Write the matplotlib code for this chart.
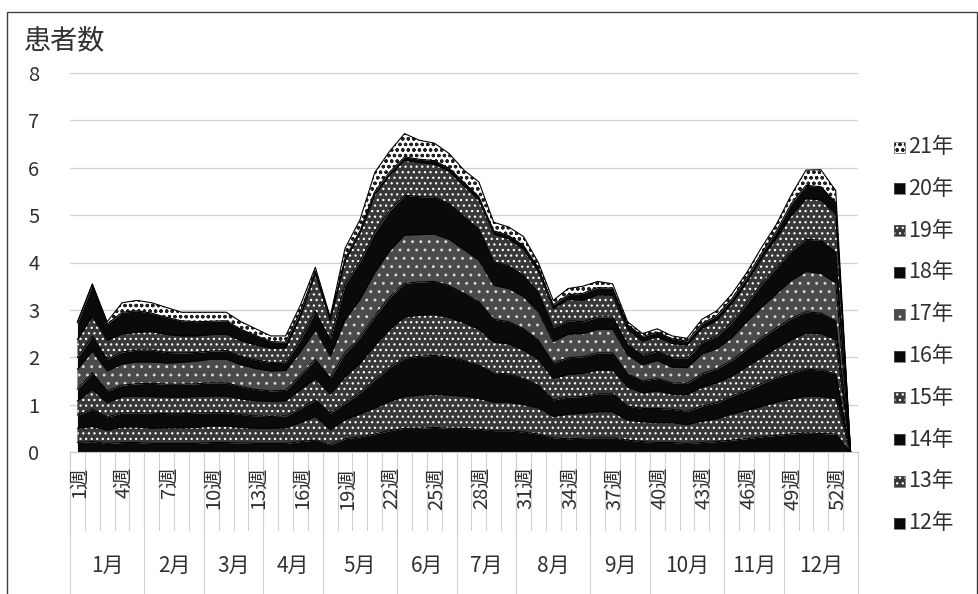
import numpy as np
import matplotlib
matplotlib.use('Agg')
import matplotlib.pyplot as plt
import matplotlib.transforms as mtransforms
from matplotlib.patches import Rectangle

plt.rcParams['font.family'] = ['Noto Sans CJK JP', 'DejaVu Sans']
plt.rcParams['hatch.linewidth'] = 0.9

# ---------------- data ----------------
weeks = list(range(1, 54))
label_weeks = list(range(1, 53, 3))
months = ['1月', '2月', '3月', '4月', '5月', '6月', '7月', '8月', '9月', '10月', '11月', '12月']
weeks_per_month = [5, 4, 4, 4, 5, 4, 4, 5, 4, 5, 4, 5]
years = ['12年', '13年', '14年', '15年', '16年', '17年', '18年', '19年', '20年', '21年']
y_label = '患者数'

y12 = [0.20, 0.22, 0.18, 0.20, 0.20, 0.18, 0.18, 0.18, 0.18, 0.20,
       0.20, 0.19, 0.18, 0.18, 0.18, 0.22, 0.25, 0.15, 0.28, 0.32,
       0.38, 0.45, 0.50, 0.50, 0.52, 0.50, 0.50, 0.48, 0.45, 0.45,
       0.42, 0.38, 0.30, 0.28, 0.29, 0.30, 0.30, 0.25, 0.22, 0.20,
       0.20, 0.18, 0.20, 0.22, 0.25, 0.28, 0.32, 0.35, 0.38, 0.40,
       0.39, 0.38, 0.00]
y13 = [0.30, 0.32, 0.28, 0.33, 0.33, 0.32, 0.33, 0.33, 0.34, 0.35,
       0.35, 0.33, 0.32, 0.32, 0.33, 0.40, 0.50, 0.32, 0.40, 0.48,
       0.55, 0.62, 0.67, 0.70, 0.70, 0.70, 0.68, 0.65, 0.60, 0.60,
       0.58, 0.55, 0.45, 0.52, 0.53, 0.55, 0.55, 0.42, 0.42, 0.42,
       0.42, 0.40, 0.45, 0.48, 0.55, 0.60, 0.64, 0.70, 0.74, 0.78,
       0.78, 0.75, 0.00]
y14 = [0.28, 0.36, 0.28, 0.29, 0.30, 0.32, 0.30, 0.30, 0.30, 0.28,
       0.28, 0.27, 0.26, 0.25, 0.25, 0.30, 0.35, 0.35, 0.35, 0.45,
       0.60, 0.72, 0.81, 0.82, 0.82, 0.80, 0.75, 0.70, 0.62, 0.60,
       0.55, 0.48, 0.35, 0.36, 0.35, 0.38, 0.38, 0.30, 0.28, 0.30,
       0.28, 0.28, 0.32, 0.34, 0.38, 0.42, 0.48, 0.52, 0.55, 0.57,
       0.56, 0.52, 0.00]
y15 = [0.30, 0.42, 0.30, 0.35, 0.35, 0.35, 0.35, 0.35, 0.35, 0.35,
       0.35, 0.33, 0.32, 0.32, 0.32, 0.40, 0.45, 0.40, 0.56, 0.62,
       0.72, 0.80, 0.87, 0.87, 0.86, 0.84, 0.80, 0.76, 0.65, 0.63,
       0.60, 0.55, 0.45, 0.48, 0.49, 0.50, 0.50, 0.40, 0.33, 0.37,
       0.32, 0.35, 0.40, 0.42, 0.42, 0.50, 0.55, 0.62, 0.70, 0.76,
       0.77, 0.72, 0.00]
y16 = [0.25, 0.35, 0.25, 0.24, 0.26, 0.28, 0.27, 0.27, 0.27, 0.28,
       0.28, 0.26, 0.24, 0.22, 0.22, 0.30, 0.40, 0.35, 0.50, 0.55,
       0.62, 0.68, 0.71, 0.70, 0.70, 0.67, 0.62, 0.58, 0.48, 0.47,
       0.45, 0.40, 0.33, 0.35, 0.35, 0.36, 0.36, 0.28, 0.25, 0.26,
       0.24, 0.24, 0.28, 0.30, 0.33, 0.37, 0.42, 0.43, 0.45, 0.45,
       0.43, 0.40, 0.00]
y17 = [0.42, 0.46, 0.42, 0.45, 0.46, 0.45, 0.45, 0.46, 0.48, 0.50,
       0.50, 0.46, 0.44, 0.42, 0.42, 0.50, 0.63, 0.45, 0.70, 0.80,
       0.92, 0.98, 1.02, 1.00, 1.00, 0.98, 0.92, 0.88, 0.72, 0.70,
       0.68, 0.60, 0.45, 0.50, 0.49, 0.50, 0.50, 0.40, 0.34, 0.38,
       0.33, 0.33, 0.42, 0.42, 0.48, 0.58, 0.64, 0.72, 0.80, 0.85,
       0.84, 0.80, 0.00]
y18 = [0.25, 0.31, 0.25, 0.25, 0.25, 0.25, 0.22, 0.20, 0.18, 0.17,
       0.18, 0.18, 0.18, 0.18, 0.18, 0.25, 0.39, 0.35, 0.75, 0.80,
       0.85, 0.85, 0.84, 0.80, 0.78, 0.75, 0.70, 0.65, 0.50, 0.48,
       0.45, 0.40, 0.30, 0.28, 0.25, 0.26, 0.26, 0.22, 0.20, 0.20,
       0.20, 0.20, 0.24, 0.27, 0.32, 0.38, 0.49, 0.55, 0.62, 0.68,
       0.70, 0.65, 0.00]
y19 = [0.38, 0.42, 0.40, 0.38, 0.38, 0.39, 0.38, 0.36, 0.35, 0.35,
       0.35, 0.33, 0.32, 0.30, 0.30, 0.50, 0.80, 0.40, 0.50, 0.60,
       0.80, 0.75, 0.74, 0.72, 0.70, 0.68, 0.65, 0.62, 0.58, 0.57,
       0.55, 0.45, 0.40, 0.45, 0.45, 0.47, 0.46, 0.32, 0.30, 0.30,
       0.30, 0.28, 0.30, 0.33, 0.40, 0.45, 0.55, 0.62, 0.75, 0.86,
       0.85, 0.80, 0.00]
y20 = [0.35, 0.67, 0.34, 0.46, 0.45, 0.39, 0.36, 0.32, 0.30, 0.28,
       0.28, 0.24, 0.20, 0.14, 0.12, 0.10, 0.05, 0.05, 0.05, 0.05,
       0.06, 0.06, 0.07, 0.07, 0.07, 0.07, 0.07, 0.07, 0.07, 0.07,
       0.08, 0.08, 0.08, 0.10, 0.15, 0.15, 0.15, 0.10, 0.10, 0.10,
       0.10, 0.08, 0.10, 0.10, 0.10, 0.10, 0.10, 0.15, 0.25, 0.28,
       0.28, 0.25, 0.00]
y21 = [0.02, 0.02, 0.05, 0.20, 0.22, 0.22, 0.21, 0.18, 0.20, 0.19,
       0.18, 0.16, 0.14, 0.12, 0.13, 0.13, 0.08, 0.03, 0.21, 0.23,
       0.40, 0.44, 0.49, 0.40, 0.37, 0.31, 0.26, 0.31, 0.18, 0.18,
       0.19, 0.11, 0.09, 0.13, 0.15, 0.13, 0.09, 0.06, 0.06, 0.07,
       0.06, 0.06, 0.09, 0.10, 0.10, 0.10, 0.12, 0.14, 0.18, 0.32,
       0.36, 0.25, 0.00]

series = [y12, y13, y14, y15, y16, y17, y18, y19, y20, y21]

# ---------------- styles ----------------
black = dict(fc='#0a0a0a', hc='#0a0a0a', hatch=None)
dots = dict(fc='#383838', hc='#ffffff', hatch='...')
dots17 = dict(fc='#4a4a4a', hc='#d8d8d8', hatch='..')
circ = dict(fc='#ffffff', hc='#202020', hatch='ooo')
styles = [black, dots, black, dots, black, dots17, black, dots, black, circ]

TXT = '#303030'

# ---------------- figure ----------------
W, H = 979, 594
fig = plt.figure(figsize=(W / 100, H / 100), dpi=100)
L, R, T, B = 70, 858, 73, 452
ax = fig.add_axes([L / W, 1 - B / H, (R - L) / W, (B - T) / H])
ov = fig.add_axes([0, 0, 1, 1], zorder=-1)
ov.set_xlim(0, W)
ov.set_ylim(H, 0)
ov.axis('off')

x = np.array(weeks, dtype=float)
base = np.zeros(len(weeks))
for vals, st in zip(series, styles):
    top = base + np.array(vals)
    ax.fill_between(x, base, top, facecolor=st['fc'], edgecolor=st['hc'],
                    hatch=st['hatch'], linewidth=0, zorder=2)
    ax.plot(x, top, color='black', lw=0.8, zorder=3)
    base = top

ax.set_xlim(0.5, 53.5)
ax.set_ylim(0, 8)
ax.set_yticks(range(0, 9))
ax.yaxis.grid(True, color='#d0d0d0', lw=0.9)
ax.set_axisbelow(True)
ax.set_xticks([])
for s in ['top', 'right', 'left']:
    ax.spines[s].set_visible(False)
ax.spines['bottom'].set_color('#c8c8c8')
ax.tick_params(axis='y', length=0, pad=22, labelsize=14.5, labelcolor=TXT)
ax.patch.set_alpha(0)

# category axis (two levels)
blend = mtransforms.blended_transform_factory(ax.transData, ov.transData)
for k in range(len(weeks) + 1):
    ov.plot([k + 0.5, k + 0.5], [452, 530], color='#d0d0d0', lw=0.8,
            transform=blend, clip_on=False)
for w in label_weeks:
    ov.text(w + 0.15, 467, f'{w}週', rotation=90, ha='center', va='top', fontsize=14.5,
            color=TXT, transform=blend)
start = 0.5
ov.plot([start, start], [452, 594], color='#d0d0d0', lw=0.8, transform=blend, clip_on=False)
for m, n in zip(months, weeks_per_month):
    end = start + n
    ov.plot([end, end], [452, 594], color='#d0d0d0', lw=0.8, transform=blend, clip_on=False)
    ov.text((start + end) / 2, 566, m, ha='center', va='center', fontsize=15,
            color=TXT, transform=blend)
    start = end

# y label
ov.text(24, 41, y_label, ha='left', va='center', fontsize=19.5, color=TXT)

# legend
leg_top, leg_step = 147, 41.8
for i, (yr, st) in enumerate(zip(years[::-1], styles[::-1])):
    yy = leg_top + i * leg_step
    ov.add_patch(Rectangle((894, yy - 5.5), 11, 11, facecolor=st['fc'],
                           edgecolor=st['hc'], hatch=st['hatch'], lw=0))
    ov.add_patch(Rectangle((894, yy - 5.5), 11, 11, facecolor='none',
                           edgecolor='#555555', lw=0.5))
    ov.text(908, yy, yr, ha='left', va='center', fontsize=15.5, color=TXT)

# outer border
ov.add_patch(Rectangle((7, 12), 970, 600, facecolor='none', edgecolor='#404040', lw=1.0,
                       clip_on=False))

fig.savefig('out.png', dpi=100)
